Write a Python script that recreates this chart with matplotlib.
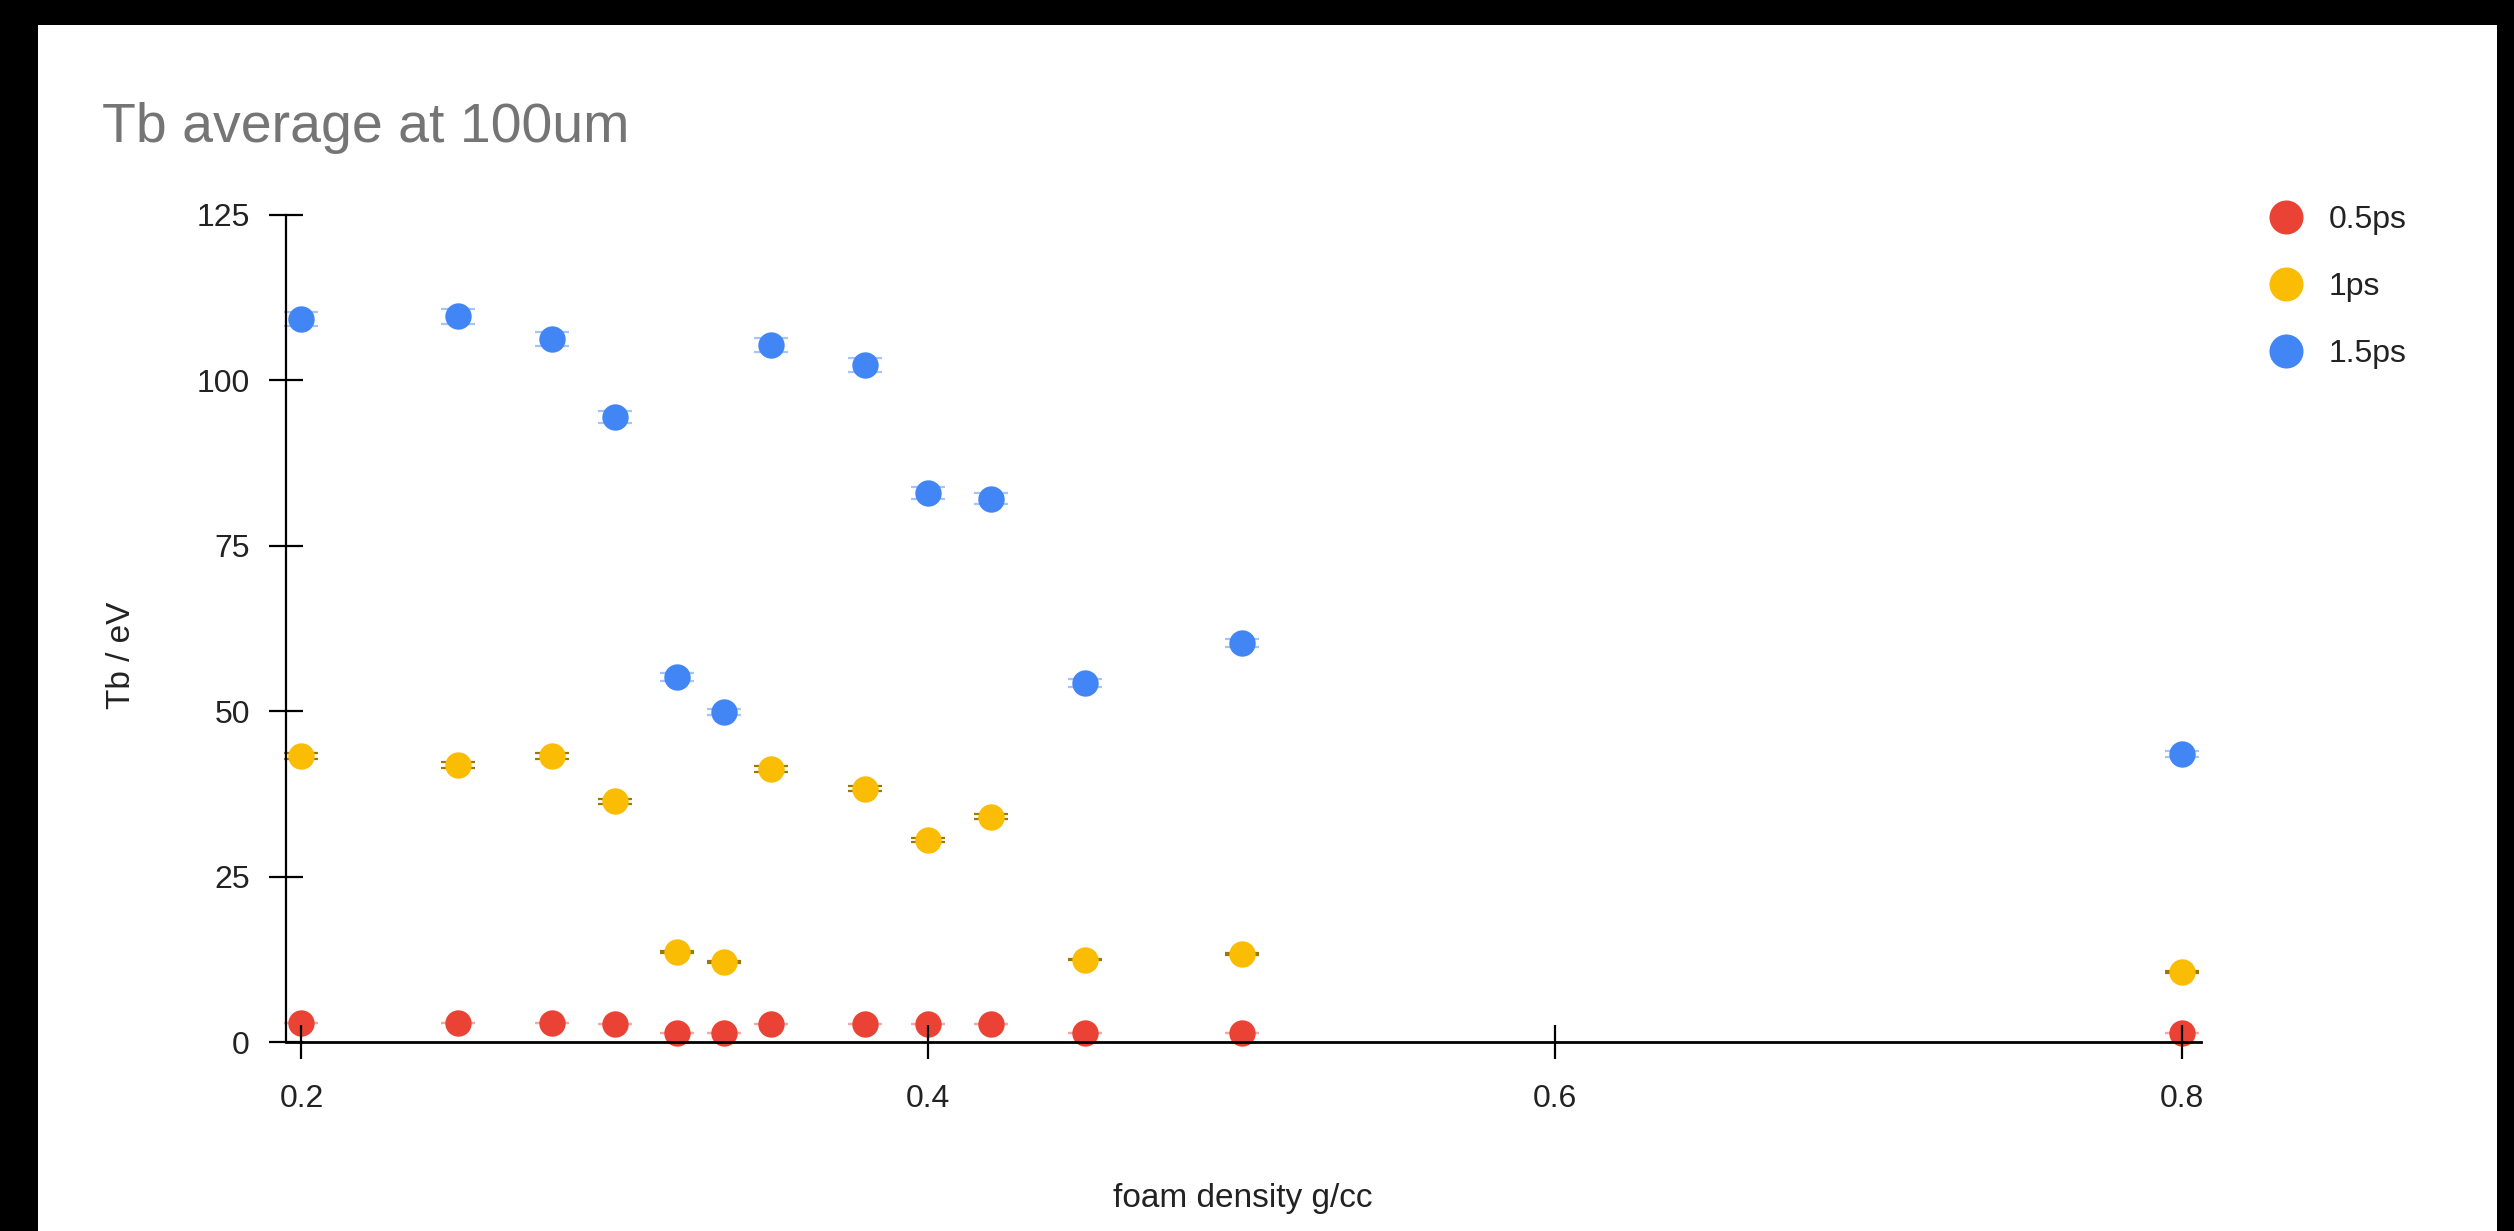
import matplotlib
matplotlib.use("Agg")
import matplotlib.pyplot as plt
from matplotlib.lines import Line2D
from matplotlib.patches import Rectangle

plt.rcParams['font.family'] = ['Liberation Sans', 'DejaVu Sans']

# foam density (g/cc)
density = [0.2, 0.25, 0.28, 0.30, 0.32, 0.335, 0.35, 0.38, 0.40, 0.42, 0.45, 0.50, 0.80]

# Tb average at 100um (eV)
tb_05ps = [2.95, 2.95, 2.95, 2.8, 1.4, 1.4, 2.8, 2.75, 2.75, 2.8, 1.35, 1.35, 1.35]
tb_1ps = [43.3, 41.9, 43.3, 36.4, 13.6, 12.1, 41.3, 38.3, 30.5, 34.1, 12.5, 13.3, 10.6]
tb_15ps = [109.3, 109.7, 106.3, 94.5, 55.2, 49.9, 105.4, 102.3, 83.0, 82.1, 54.3, 60.4, 43.5]

# error bars
err_05ps = [0.03, 0.03, 0.03, 0.03, 0.01, 0.01, 0.03, 0.03, 0.03, 0.03, 0.01, 0.01, 0.01]
err_1ps = [0.45, 0.42, 0.45, 0.37, 0.14, 0.12, 0.42, 0.39, 0.31, 0.35, 0.13, 0.14, 0.11]
err_15ps = [1.1, 1.1, 1.07, 0.95, 0.56, 0.5, 1.06, 1.03, 0.84, 0.83, 0.55, 0.61, 0.44]

labels = ['0.5ps', '1ps', '1.5ps']
colors = ['#EA4335', '#FBBC04', '#4285F4']
capcolors = ['#F5A7A0', '#9C7A00', '#A4C4FA']

W, H = 2514, 1231
fig = plt.figure(figsize=(W / 100, H / 100), dpi=100)
fig.patch.set_facecolor('white')

# black frame strips around the screenshot
for (x0, y0, w, h) in [(0, 0, 38, H), (0, H - 25, W, 25), (2497, 0, W - 2497, H)]:
    fig.patches.append(Rectangle((x0 / W, y0 / H), w / W, h / H, transform=fig.transFigure,
                                 facecolor='black', edgecolor='none', zorder=0))

ax = fig.add_axes([285.7 / W, (H - 1042.3) / H, 1915.3 / W, 827.3 / H])
ax.set_facecolor('none')

series = [tb_05ps, tb_1ps, tb_15ps]
errors = [err_05ps, err_1ps, err_15ps]
for i in range(3):
    ax.errorbar(density, series[i], yerr=errors[i], fmt='none', ecolor=capcolors[i],
                elinewidth=1.5, capsize=12.2, capthick=1.6, zorder=1.8, clip_on=False)
    ax.plot(density, series[i], 'o', color=colors[i], markersize=19, markeredgewidth=0,
            linestyle='none', zorder=2, clip_on=False)

ax.set_xlim(0.19496, 0.80622)
ax.set_ylim(0, 125)
ax.set_xticks([0.2, 0.4, 0.6, 0.8])
ax.set_xticklabels(['0.2', '0.4', '0.6', '0.8'])
ax.set_yticks([0, 25, 50, 75, 100, 125])

for s in ['top', 'right']:
    ax.spines[s].set_visible(False)
ax.spines['left'].set_linewidth(1.6)
ax.spines['bottom'].set_linewidth(2.0)
ax.set_axisbelow(False)
ax.tick_params(direction='inout', length=24.5, width=1.6, labelsize=23, pad=13.5,
               colors='black', labelcolor='#222222')
ax.tick_params(axis='x', pad=17.5)

fig.text(102 / W, 1 - 141.7 / H, 'Tb average at 100um', fontsize=40, color='#757575',
         ha='left', va='baseline')
fig.text(1243 / W, 1 - 1207 / H, 'foam density g/cc', fontsize=24, color='#222222',
         ha='center', va='baseline')
fig.text(121 / W, 1 - 655.5 / H, 'Tb / eV', fontsize=24, color='#222222',
         ha='center', va='center', rotation=90)

handles = [Line2D([], [], marker='o', linestyle='none', color=c, markersize=24.5,
                  markeredgewidth=0) for c in colors]
fig.legend(handles, labels, loc='upper left', bbox_to_anchor=(2270 / W, 1 - 205 / H),
           frameon=False, fontsize=23, handlelength=1.0, handletextpad=0.85,
           labelspacing=1.16, borderpad=0, borderaxespad=0, labelcolor='#222222')

fig.savefig('out.png', dpi=100)
